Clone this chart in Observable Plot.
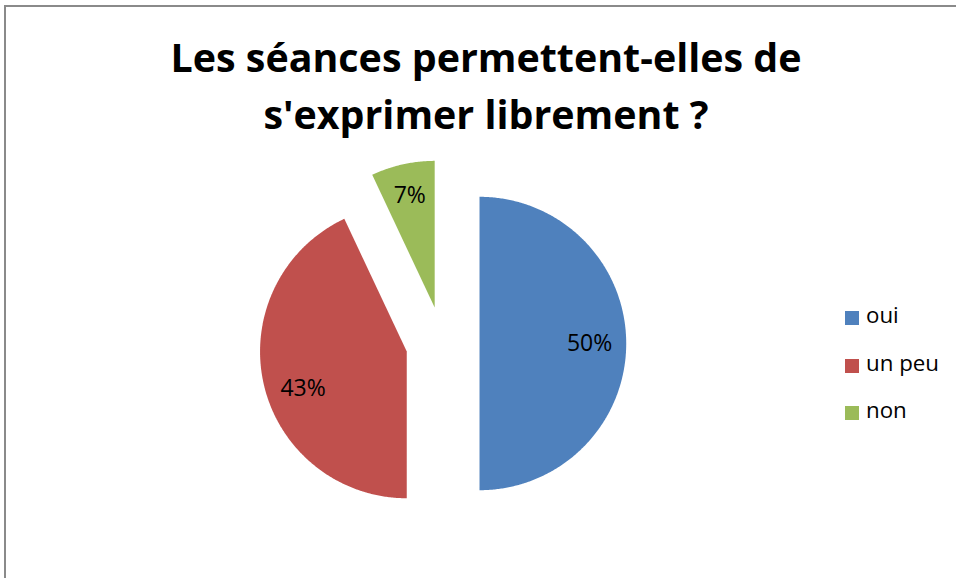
<!DOCTYPE html>
<html>
<head>
<meta charset="utf-8">
<script src="https://cdn.jsdelivr.net/npm/d3@7"></script>
<script src="https://cdn.jsdelivr.net/npm/@observablehq/plot@0.6"></script>
<style>
  html, body { margin: 0; padding: 0; background: #fff; }
  body { width: 956px; height: 578px; position: relative; overflow: hidden; font-family: "Open Sans", sans-serif; }
  #frame { position: absolute; left: 4px; top: 5px; width: 980px; height: 600px;
           border-left: 2px solid #8a8a8a; border-top: 2px solid #8a8a8a; }
  #title { position: absolute; left: 0; top: 29px; width: 972px; text-align: center;
           font-family: "Open Sans", sans-serif; font-weight: 700; font-size: 39.4px; line-height: 57px; color: #000; }
  #chart { position: absolute; left: 0; top: 150px; }
  #legend { position: absolute; left: 845px; top: 300px; font-family: "Open Sans", sans-serif; font-size: 22.3px; color: #000; }
  .row { position: absolute; left: 0; height: 30px; white-space: nowrap; }
  .sw { position: absolute; left: 0; top: 11px; width: 14px; height: 14px; }
  .lab { position: absolute; left: 21px; top: 0px; line-height: 30px; }
</style>
</head>
<body>
<div id="frame"></div>
<div id="title">Les séances permettent-elles de<br>s'exprimer librement ?</div>
<div id="chart"></div>
<div id="legend"></div>
<script>
// ---- data ----
const categories = ["oui", "un peu", "non"];
const values = [50, 43, 7];
const colors = ["#4F81BD", "#C0504D", "#9BBB59"];

// ---- layout constants ----
const W = 956, H = 428;
const R = 146.7;            // radius in px
const CX = 442.2, CY = 193; // pie centre in svg px
const EXPLODE = 0.251;      // explosion, in radius units
const labelRadius = [0.75, 0.75, 0.78];   // label distance, radius units
const labelAngleShift = [0, -7, 0];       // degrees

const arcs = d3.pie().sort(null).value(d => d)(values);

const pts = [];
const labels = [];
arcs.forEach((a, i) => {
  const mid = (a.startAngle + a.endAngle) / 2;
  const ox = EXPLODE * Math.sin(mid), oy = EXPLODE * Math.cos(mid);
  pts.push({cat: categories[i], x: ox, y: oy});
  const n = Math.max(2, Math.ceil((a.endAngle - a.startAngle) / (Math.PI / 360)));
  for (let k = 0; k <= n; k++) {
    const t = a.startAngle + (a.endAngle - a.startAngle) * k / n;
    pts.push({cat: categories[i], x: ox + Math.sin(t), y: oy + Math.cos(t)});
  }
  pts.push({cat: categories[i], x: ox, y: oy});
  const la = mid + labelAngleShift[i] * Math.PI / 180;
  labels.push({cat: categories[i], text: values[i] + "%",
               x: ox + labelRadius[i] * Math.sin(la), y: oy + labelRadius[i] * Math.cos(la)});
});

const plot = Plot.plot({
  width: W, height: H, margin: 0,
  style: {background: "transparent", fontFamily: "'Open Sans', sans-serif"},
  x: {domain: [-CX / R, (W - CX) / R], axis: null},
  y: {domain: [-(H - CY) / R, CY / R], axis: null},
  color: {domain: categories, range: colors},
  marks: [
    Plot.line(pts, {x: "x", y: "y", z: "cat", fill: "cat", stroke: "none", curve: "linear"}),
    Plot.text(labels, {x: "x", y: "y", text: "text", fontSize: 23, fill: "#000"})
  ]
});
document.getElementById("chart").appendChild(plot);

// legend from plot's colour scale
const color = plot.scale("color");
const leg = document.getElementById("legend");
categories.forEach((c, i) => {
  const row = document.createElement("div");
  row.className = "row";
  row.style.top = (i * 47.5) + "px";
  const sw = document.createElement("div");
  sw.className = "sw";
  sw.style.background = color.apply(c);
  const lab = document.createElement("div");
  lab.className = "lab";
  lab.textContent = c;
  row.appendChild(sw); row.appendChild(lab);
  leg.appendChild(row);
});
</script>
</body>
</html>
